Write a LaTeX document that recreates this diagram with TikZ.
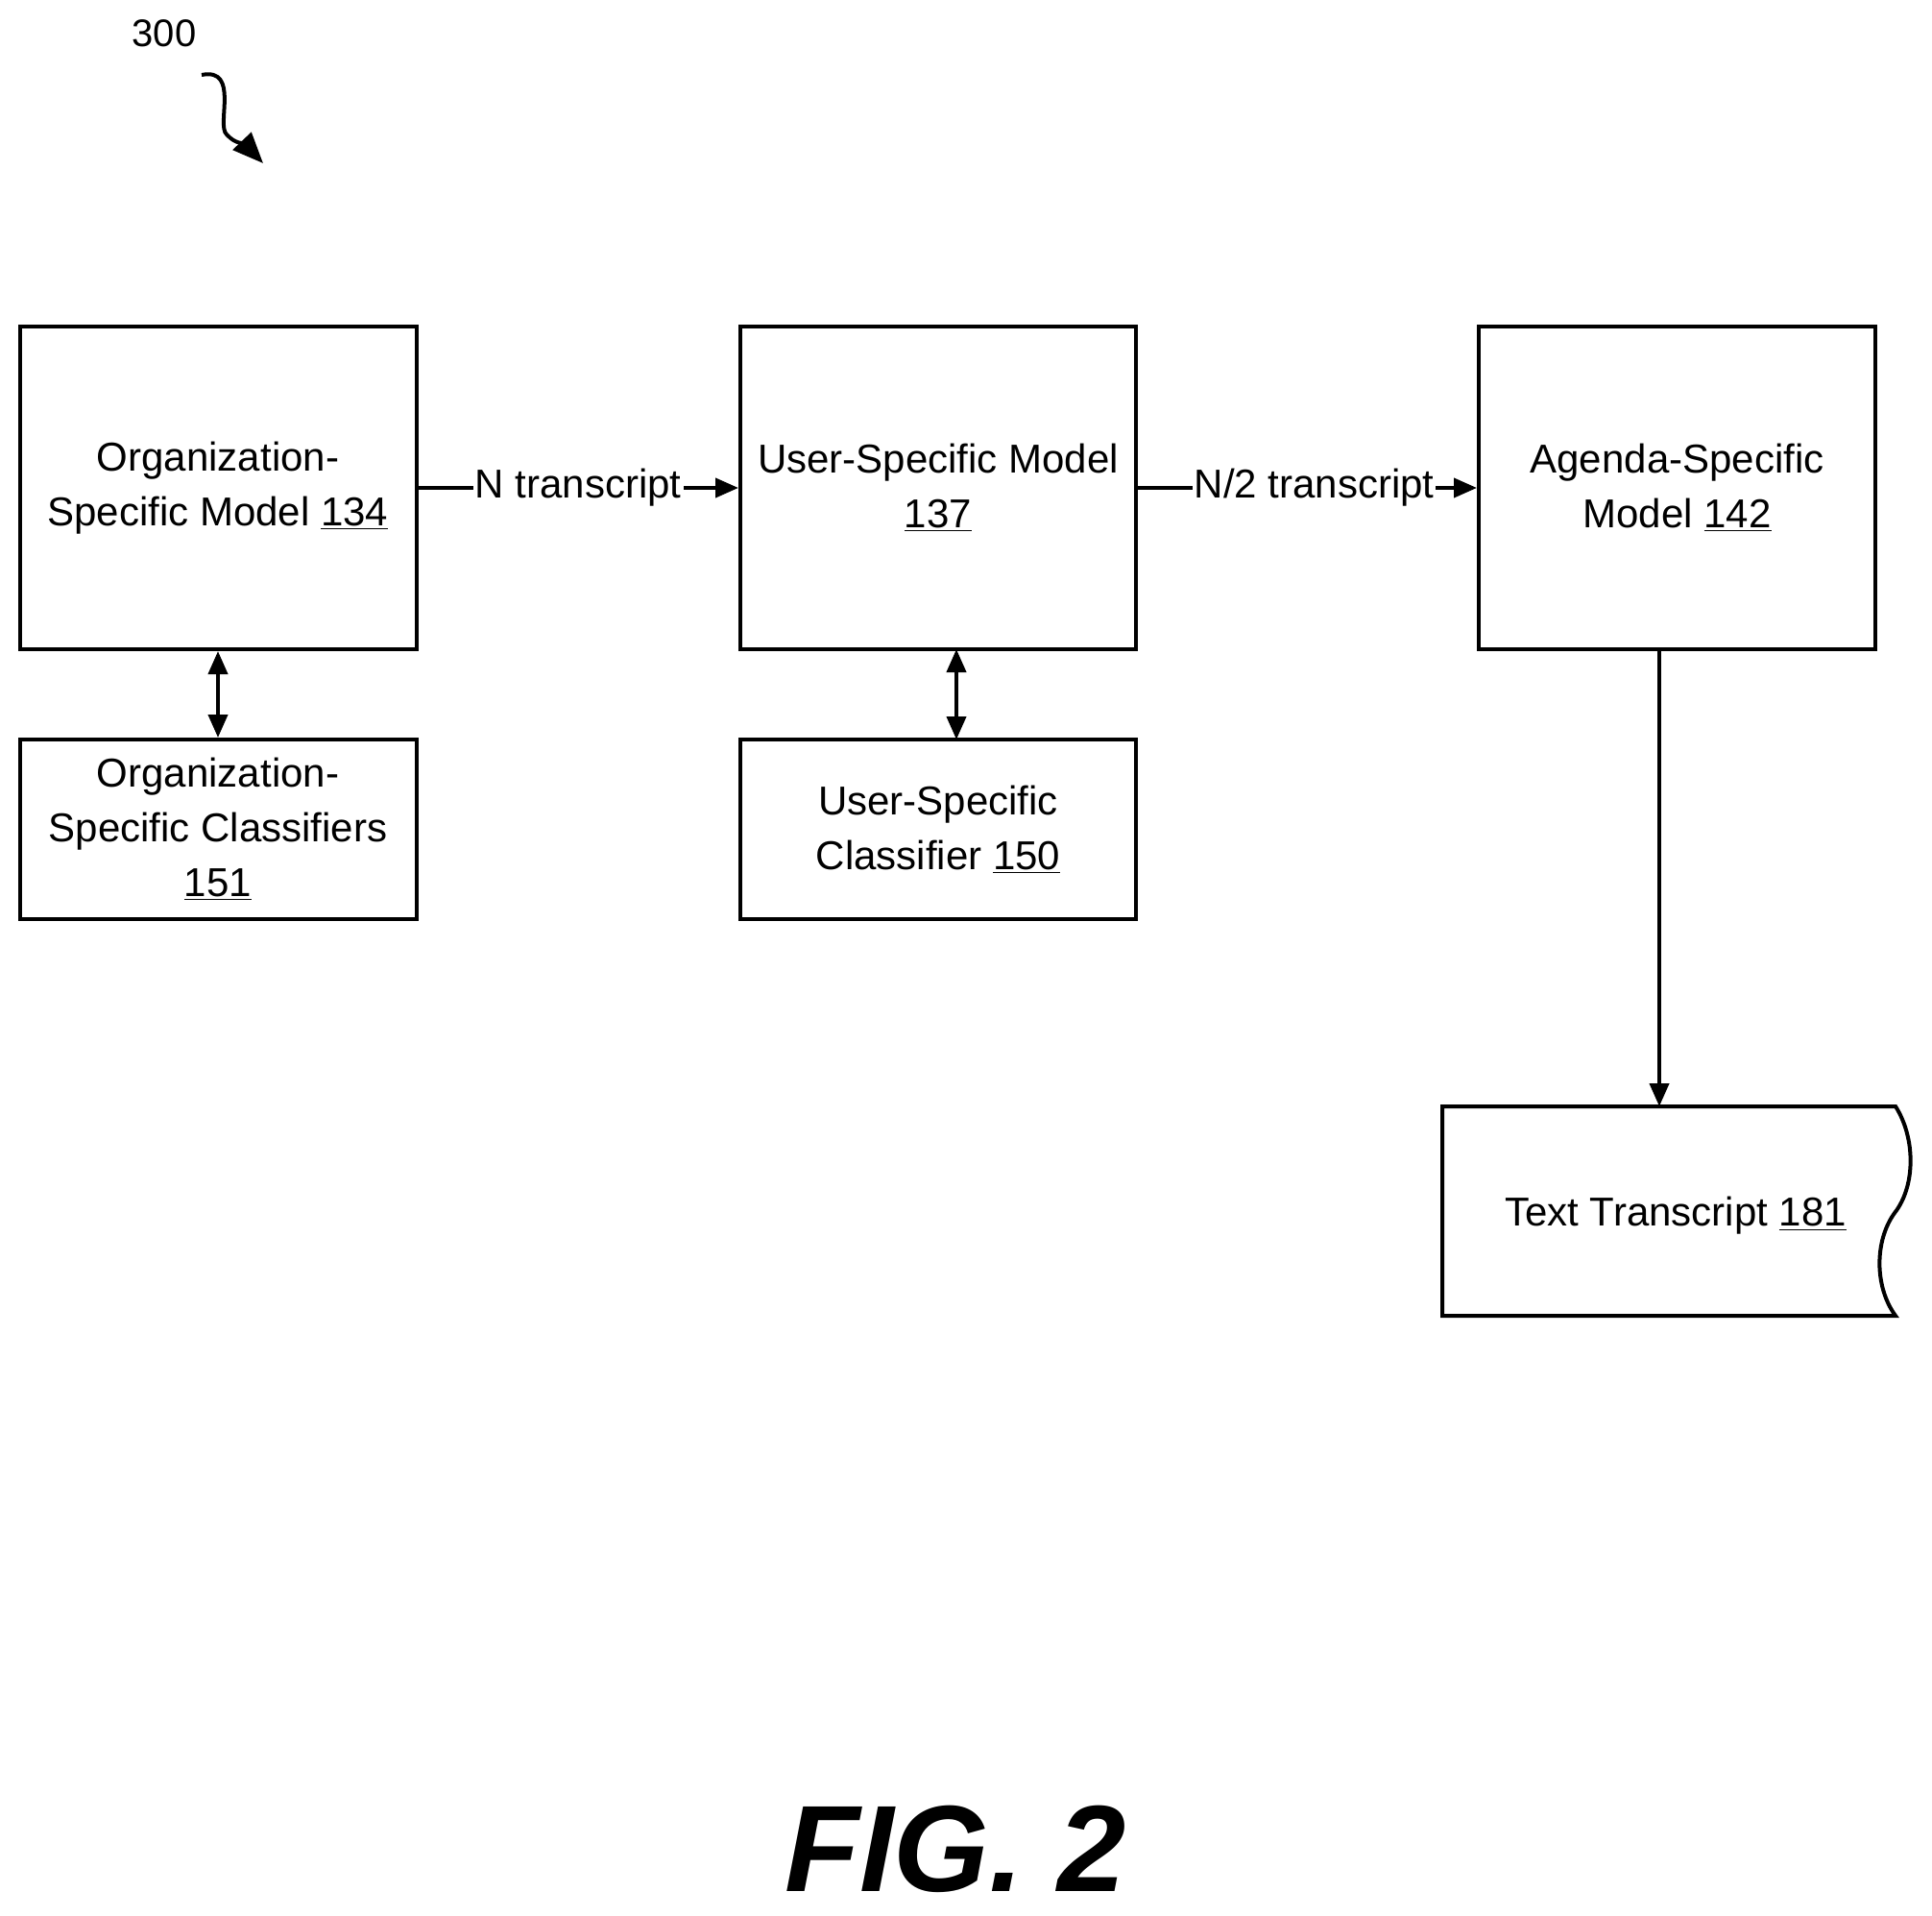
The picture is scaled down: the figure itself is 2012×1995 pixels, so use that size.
\documentclass[tikz,border=0pt]{standalone}
\usepackage{fontspec}
\setmainfont{Liberation Sans}
\usetikzlibrary{arrows.meta}
\begin{document}
\begin{tikzpicture}[x=0.5pt,y=-0.5pt,
 box/.style={draw,line width=2pt,align=center,font=\fontsize{21}{28.5}\selectfont},
 lab/.style={fill=white,inner sep=1pt,font=\fontsize{21}{28.5}\selectfont},
 arr/.style={line width=2pt,-{Triangle[length=12pt,width=10pt]}},
 darr/.style={line width=2pt,{Triangle[length=12pt,width=10pt]}-{Triangle[length=12pt,width=10pt]}}]
\useasboundingbox (0,0) rectangle (2012,1995);
\newcommand{\bx}[5]{\node[box,minimum width=#3*1pt/2,minimum height=#4*1pt/2,inner sep=0pt] (#1) at (#2) {#5};}
\bx{osm}{227,508}{413}{336}{Organization-\\Specific Model \underline{134}}
\bx{usm}{977,508}{412}{336}{User-Specific Model\\\underline{137}}
\bx{asm}{1746.5,508}{413}{336}{Agenda-Specific\\Model \underline{142}}
\bx{osc}{227,863.5}{413}{187}{Organization-\\Specific Classifiers\\\underline{151}}
\bx{usc}{977,863.5}{412}{187}{User-Specific\\Classifier \underline{150}}
\draw[line width=2pt] (1502,1152) -- (1974,1152) .. controls (1995,1185) and (1995,1235) .. (1973,1263) .. controls (1952,1292) and (1952,1340) .. (1974,1370) -- (1502,1370) -- cycle;
\node[font=\fontsize{21}{28}\selectfont] (tt) at (1745,1266) {Text Transcript \underline{181}};
\coordinate (ttop) at (1728,1152);
\coordinate (asmb) at (1728,676);
\draw[arr] (asmb) -- (ttop);
\draw[arr] (osm.east) -- node[lab,pos=0.5]{N transcript} (usm.west);
\draw[arr] (usm.east) -- node[lab,pos=0.52]{N/2 transcript} (asm.west);
\draw[darr] (osm.south) -- (osc.north);
\coordinate (u1) at (996,676); \coordinate (u2) at (996,770);
\draw[darr] (u1) -- (u2);
\node[font=\fontsize{20}{24}\selectfont] (n300) at (171,35) {300};
\coordinate (s1) at (210,78); \coordinate (s2) at (274,170);
\draw[line width=2pt,-{Triangle[length=16pt,width=13pt]}] (s1) .. controls (250,70) and (225,130) .. (236,140) .. controls (245,150) and (255,150) .. (s2);
\node[font=\fontsize{64}{70}\selectfont\bfseries\itshape] (fig) at (995,1925) {FIG. 2};
\end{tikzpicture}
\end{document}
